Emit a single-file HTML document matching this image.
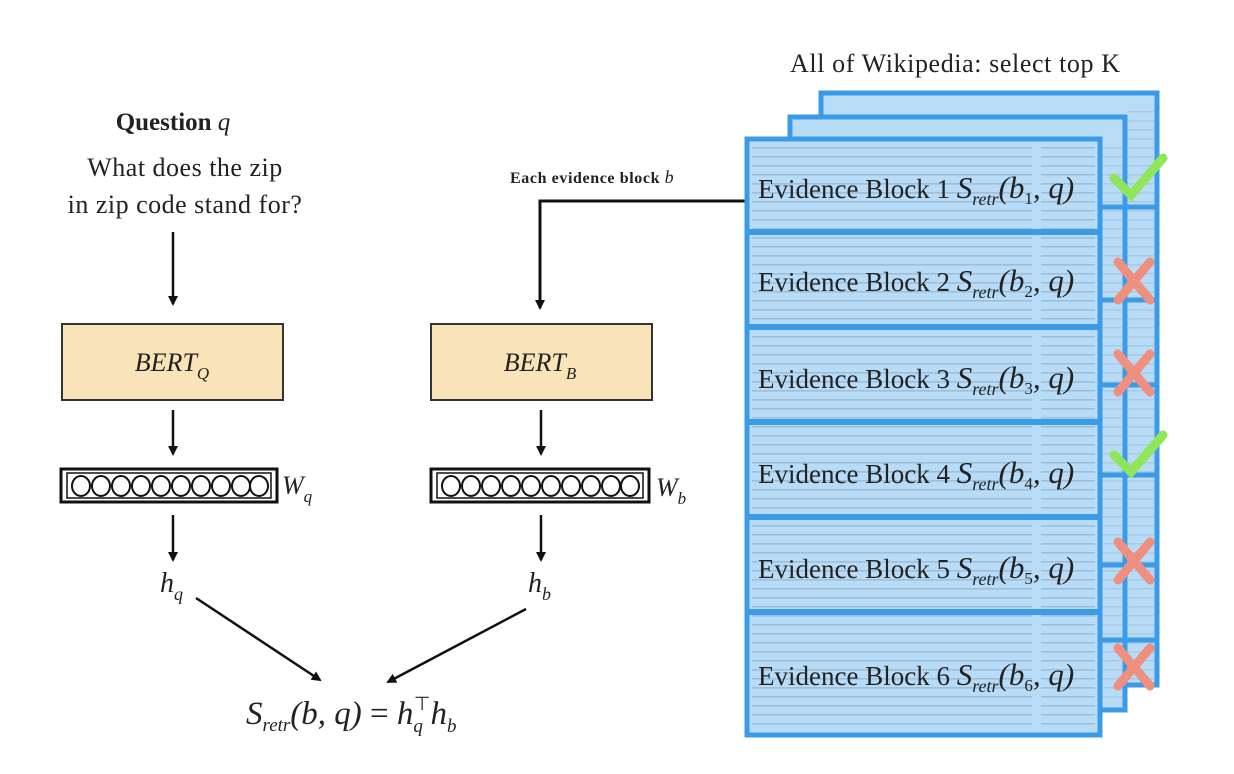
<!DOCTYPE html>
<html><head><meta charset="utf-8"><style>
html,body{margin:0;padding:0;background:#fff;}
svg{display:block;}
.s{font-family:"Liberation Serif",serif;fill:#222;}
</style></head><body>
<svg width="1234" height="774" viewBox="0 0 1234 774" xmlns="http://www.w3.org/2000/svg">
<defs>
<marker id="ah" markerWidth="10" markerHeight="10" refX="8" refY="5" orient="auto" markerUnits="userSpaceOnUse">
<path d="M0,0 L10,5 L0,10 z" fill="#111"/></marker>
<pattern id="tx" width="345" height="9" patternUnits="userSpaceOnUse">
<rect x="6" y="3" width="336" height="1.6" fill="#7a93a8" opacity="0.4"/>
</pattern>
</defs>

<!-- left column -->
<text class="s" x="173" y="130" font-size="25" text-anchor="middle" font-weight="bold" fill="#333">Question <tspan font-style="italic" font-weight="normal">q</tspan></text>
<text class="s" x="185" y="176" font-size="26" text-anchor="middle" fill="#555" letter-spacing="0.5">What does the zip</text>
<text class="s" x="185" y="213" font-size="26" text-anchor="middle" fill="#555" letter-spacing="0.5">in zip code stand for?</text>
<line x1="173" y1="232" x2="173" y2="304" stroke="#111" stroke-width="2.5" marker-end="url(#ah)"/>
<rect x="62" y="324" width="221" height="76" fill="#f9e4ba" stroke="#333" stroke-width="2"/>
<text class="s" x="172" y="371" font-size="26" text-anchor="middle" font-style="italic">BERT<tspan font-size="17" dy="8">Q</tspan></text>
<line x1="173" y1="410" x2="173" y2="454" stroke="#111" stroke-width="2.5" marker-end="url(#ah)"/>
<rect x="61" y="469" width="216" height="33" fill="#fff" stroke="#111" stroke-width="3"/>
<rect x="67" y="473" width="204" height="25" fill="none" stroke="#111" stroke-width="1.5"/>
<g fill="none" stroke="#111" stroke-width="2">
<ellipse cx="81" cy="486" rx="9" ry="10"/><ellipse cx="101" cy="486" rx="9" ry="10"/><ellipse cx="121" cy="486" rx="9" ry="10"/><ellipse cx="141" cy="486" rx="9" ry="10"/><ellipse cx="161" cy="486" rx="9" ry="10"/><ellipse cx="181" cy="486" rx="9" ry="10"/><ellipse cx="201" cy="486" rx="9" ry="10"/><ellipse cx="221" cy="486" rx="9" ry="10"/><ellipse cx="241" cy="486" rx="9" ry="10"/><ellipse cx="259" cy="486" rx="9" ry="10"/>
</g>
<text class="s" x="282" y="494" font-size="26" font-style="italic" fill="#555">W<tspan font-size="17" dy="8">q</tspan></text>
<line x1="173" y1="515" x2="173" y2="560" stroke="#111" stroke-width="2.5" marker-end="url(#ah)"/>
<text class="s" x="160" y="592" font-size="28" font-style="italic" fill="#444">h<tspan font-size="18" dy="8">q</tspan></text>
<line x1="196" y1="598" x2="320" y2="680" stroke="#111" stroke-width="2.5" marker-end="url(#ah)"/>
<line x1="526" y1="609" x2="388" y2="682" stroke="#111" stroke-width="2.5" marker-end="url(#ah)"/>
<text class="s" x="246" y="724" font-size="33" font-style="italic" fill="#444">S<tspan font-size="19" dy="7">retr</tspan><tspan dy="-7">(b, q) </tspan><tspan font-style="normal">=</tspan> h<tspan font-size="19" dy="8">q</tspan><tspan font-size="19" dy="-22" font-style="normal" dx="-9">⊤</tspan><tspan dy="14">h</tspan><tspan font-size="19" dy="8">b</tspan></text>

<!-- middle column -->
<text class="s" x="510" y="183" font-size="16" font-weight="bold" fill="#333" letter-spacing="0.6">Each evidence block <tspan font-style="italic" font-weight="normal" font-size="18">b</tspan></text>
<polyline points="748,201 540,201 540,308" fill="none" stroke="#111" stroke-width="3" marker-end="url(#ah)"/>
<rect x="431" y="324" width="221" height="76" fill="#f9e4ba" stroke="#333" stroke-width="2"/>
<text class="s" x="540" y="371" font-size="26" text-anchor="middle" font-style="italic">BERT<tspan font-size="17" dy="8">B</tspan></text>
<line x1="541" y1="410" x2="541" y2="454" stroke="#111" stroke-width="2.5" marker-end="url(#ah)"/>
<rect x="431" y="469" width="218" height="33" fill="#fff" stroke="#111" stroke-width="3"/>
<rect x="437" y="473" width="206" height="25" fill="none" stroke="#111" stroke-width="1.5"/>
<g fill="none" stroke="#111" stroke-width="2">
<ellipse cx="451" cy="486" rx="9" ry="10"/><ellipse cx="471" cy="486" rx="9" ry="10"/><ellipse cx="491" cy="486" rx="9" ry="10"/><ellipse cx="511" cy="486" rx="9" ry="10"/><ellipse cx="531" cy="486" rx="9" ry="10"/><ellipse cx="551" cy="486" rx="9" ry="10"/><ellipse cx="571" cy="486" rx="9" ry="10"/><ellipse cx="591" cy="486" rx="9" ry="10"/><ellipse cx="611" cy="486" rx="9" ry="10"/><ellipse cx="630" cy="486" rx="9" ry="10"/>
</g>
<text class="s" x="656" y="496" font-size="26" font-style="italic" fill="#555">W<tspan font-size="17" dy="8">b</tspan></text>
<line x1="541" y1="515" x2="541" y2="560" stroke="#111" stroke-width="2.5" marker-end="url(#ah)"/>
<text class="s" x="528" y="592" font-size="28" font-style="italic" fill="#444">h<tspan font-size="18" dy="8">b</tspan></text>

<!-- right: wikipedia -->
<text class="s" x="790" y="72" font-size="26" fill="#444" letter-spacing="0.6">All of Wikipedia: select top K</text>
<!-- back page -->
<rect x="821" y="93" width="336" height="592" fill="#b8dcf7" stroke="#3b9be6" stroke-width="5"/>
<rect x="1128" y="110" width="26" height="572" fill="url(#tx)" opacity="0.6"/>
<!-- middle page -->
<rect x="790" y="117" width="335" height="593" fill="#b8dcf7" stroke="#3b9be6" stroke-width="5"/>
<rect x="1100" y="140" width="22" height="565" fill="url(#tx)" opacity="0.6"/>
<g stroke="#3b9be6" stroke-width="5">
<line x1="1100" y1="207" x2="1157" y2="207"/><line x1="1100" y1="300" x2="1157" y2="300"/><line x1="1100" y1="385" x2="1157" y2="385"/>
<line x1="1100" y1="475" x2="1157" y2="475"/><line x1="1100" y1="565" x2="1157" y2="565"/><line x1="1100" y1="640" x2="1157" y2="640"/>
</g>
<!-- front page -->
<rect x="747" y="139" width="353" height="596" fill="#b8dcf7" stroke="#3b9be6" stroke-width="5"/>
<rect x="752" y="145" width="343" height="585" fill="url(#tx)"/>
<g stroke="#3b9be6" stroke-width="6">
<line x1="747" y1="232" x2="1100" y2="232"/><line x1="747" y1="327" x2="1100" y2="327"/><line x1="747" y1="422" x2="1100" y2="422"/>
<line x1="747" y1="517" x2="1100" y2="517"/><line x1="747" y1="612" x2="1100" y2="612"/>
</g>
<g class="s" font-size="27" fill="#1f3550">
<text x="758" y="198">Evidence Block 1 <tspan font-style="italic" font-size="31">S</tspan><tspan font-style="italic" font-size="18" dy="7">retr</tspan><tspan font-style="italic" font-size="31" dy="-7">(b</tspan><tspan font-size="17" dy="6">1</tspan><tspan font-style="italic" font-size="31" dy="-6">, q)</tspan></text>
<text x="758" y="291">Evidence Block 2 <tspan font-style="italic" font-size="31">S</tspan><tspan font-style="italic" font-size="18" dy="7">retr</tspan><tspan font-style="italic" font-size="31" dy="-7">(b</tspan><tspan font-size="17" dy="6">2</tspan><tspan font-style="italic" font-size="31" dy="-6">, q)</tspan></text>
<text x="758" y="388">Evidence Block 3 <tspan font-style="italic" font-size="31">S</tspan><tspan font-style="italic" font-size="18" dy="7">retr</tspan><tspan font-style="italic" font-size="31" dy="-7">(b</tspan><tspan font-size="17" dy="6">3</tspan><tspan font-style="italic" font-size="31" dy="-6">, q)</tspan></text>
<text x="758" y="483">Evidence Block 4 <tspan font-style="italic" font-size="31">S</tspan><tspan font-style="italic" font-size="18" dy="7">retr</tspan><tspan font-style="italic" font-size="31" dy="-7">(b</tspan><tspan font-size="17" dy="6">4</tspan><tspan font-style="italic" font-size="31" dy="-6">, q)</tspan></text>
<text x="758" y="578">Evidence Block 5 <tspan font-style="italic" font-size="31">S</tspan><tspan font-style="italic" font-size="18" dy="7">retr</tspan><tspan font-style="italic" font-size="31" dy="-7">(b</tspan><tspan font-size="17" dy="6">5</tspan><tspan font-style="italic" font-size="31" dy="-6">, q)</tspan></text>
<text x="758" y="685">Evidence Block 6 <tspan font-style="italic" font-size="31">S</tspan><tspan font-style="italic" font-size="18" dy="7">retr</tspan><tspan font-style="italic" font-size="31" dy="-7">(b</tspan><tspan font-size="17" dy="6">6</tspan><tspan font-style="italic" font-size="31" dy="-6">, q)</tspan></text>
</g>
<!-- checks & crosses -->
<g fill="none" stroke-linecap="round" stroke-width="9">
<polyline points="1114,178 1131,195 1163,158" stroke="#8fe65a"/>
<polyline points="1114,455 1131,472 1163,435" stroke="#8fe65a"/>
<g stroke="#ef8f80">
<line x1="1118" y1="262" x2="1150" y2="300"/><line x1="1150" y1="262" x2="1118" y2="300"/>
<line x1="1118" y1="354" x2="1150" y2="392"/><line x1="1150" y1="354" x2="1118" y2="392"/>
<line x1="1118" y1="542" x2="1150" y2="580"/><line x1="1150" y1="542" x2="1118" y2="580"/>
<line x1="1118" y1="648" x2="1150" y2="686"/><line x1="1150" y1="648" x2="1118" y2="686"/>
</g>
</g>
</svg>
</body></html>
